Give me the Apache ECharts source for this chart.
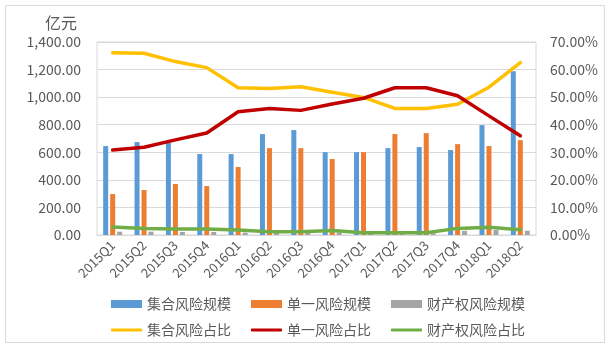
<!DOCTYPE html>
<html>
<head>
<meta charset="utf-8">
<script src="https://cdn.jsdelivr.net/npm/echarts@6/dist/echarts.min.js"></script>
<style>
  html, body { margin: 0; padding: 0; background: #fff; }
  #chart { width: 610px; height: 346px; }
</style>
</head>
<body>
<div id="chart"></div>
<script>
// Quarterly scale (亿元) and share (%) by risk type
const quarters = ['2015Q1','2015Q2','2015Q3','2015Q4','2016Q1','2016Q2','2016Q3','2016Q4','2017Q1','2017Q2','2017Q3','2017Q4','2018Q1','2018Q2'];
const collectiveScale = [645, 674, 670, 587, 587, 732, 761, 601, 601, 630, 638, 616, 797, 1188];
const singleScale     = [297, 326, 370, 355, 493, 630, 630, 551, 601, 732, 739, 659, 645, 688];
const propertyScale   = [24, 24, 22, 22, 17, 15, 15, 18, 12, 12, 12, 30, 36, 31];
const collectiveShare = [66.1, 65.9, 62.9, 60.7, 53.4, 53.1, 53.8, 51.8, 49.9, 45.9, 45.9, 47.4, 53.6, 62.5];
const singleShare     = [30.8, 31.8, 34.5, 37.0, 44.7, 45.9, 45.2, 47.5, 49.6, 53.4, 53.4, 50.5, 43.2, 36.0];
const propertyShare   = [2.9, 2.4, 2.2, 2.2, 1.8, 1.2, 1.2, 1.6, 0.8, 0.8, 0.8, 2.4, 2.8, 1.9];
const leftTicks = { min: 0, max: 1400, step: 200 };
const rightTicks = { min: 0, max: 70, step: 10 };

const TXT = '#595959';
const GRID = '#d9d9d9';
const FONT = '"Noto Sans CJK SC", "DejaVu Sans", sans-serif';

const chart = echarts.init(document.getElementById('chart'), null, { renderer: 'canvas' });

function barSeries(name, data, color) {
  return {
    name, type: 'bar', yAxisIndex: 0, data,
    barWidth: 5, barGap: '40%', barCategoryGap: '40%',
    itemStyle: { color }
  };
}
function lineSeries(name, data, color) {
  return {
    name, type: 'line', yAxisIndex: 1, data,
    symbol: 'none', z: 3,
    lineStyle: { color, width: 3.5, cap: 'round', join: 'round' },
    itemStyle: { color }
  };
}

const legendText = { color: TXT, fontSize: 14, fontFamily: FONT };

chart.setOption({
  animation: false,
  textStyle: { fontFamily: FONT },
  title: {
    text: '亿元', left: 40, top: 10,
    textStyle: { color: TXT, fontSize: 16, fontWeight: 'normal', fontFamily: FONT }
  },
  graphic: [{
    type: 'rect', silent: true,
    shape: { x: 5.5, y: 5.5, width: 599, height: 337 },
    style: { fill: 'none', stroke: GRID, lineWidth: 1 }
  }],
  legend: [
    {
      data: ['集合风险规模', '单一风险规模', '财产权风险规模'],
      left: 106, top: 292, itemWidth: 31, itemHeight: 8, itemGap: 20,
      icon: 'rect', textStyle: legendText
    },
    {
      data: ['集合风险占比', '单一风险占比', '财产权风险占比'],
      left: 106, top: 318, itemWidth: 31, itemHeight: 3, itemGap: 20,
      icon: 'roundRect', textStyle: legendText
    }
  ],
  grid: { left: 97, right: 74, top: 42, bottom: 111, show: true, borderColor: GRID, borderWidth: 1 },
  xAxis: {
    type: 'category', data: quarters,
    axisLine: { lineStyle: { color: GRID } },
    axisTick: { show: false },
    axisLabel: { color: TXT, fontSize: 13, rotate: 45, margin: 8, interval: 0, fontFamily: FONT }
  },
  yAxis: [
    {
      type: 'value', min: leftTicks.min, max: leftTicks.max, interval: leftTicks.step,
      axisLine: { show: false }, axisTick: { show: false },
      splitLine: { lineStyle: { color: GRID } },
      axisLabel: {
        color: TXT, fontSize: 14, margin: 16, fontFamily: FONT,
        formatter: v => v.toLocaleString('en-US', { minimumFractionDigits: 2, maximumFractionDigits: 2 })
      }
    },
    {
      type: 'value', min: rightTicks.min, max: rightTicks.max, interval: rightTicks.step,
      axisLine: { show: false }, axisTick: { show: false },
      splitLine: { show: false },
      axisLabel: {
        color: TXT, fontSize: 14, margin: 14, fontFamily: FONT,
        formatter: v => v.toFixed(2) + '%'
      }
    }
  ],
  series: [
    barSeries('集合风险规模', collectiveScale, '#5b9bd5'),
    barSeries('单一风险规模', singleScale, '#ed7d31'),
    barSeries('财产权风险规模', propertyScale, '#a5a5a5'),
    lineSeries('集合风险占比', collectiveShare, '#ffc000'),
    lineSeries('单一风险占比', singleShare, '#c00000'),
    lineSeries('财产权风险占比', propertyShare, '#70ad47')
  ]
});
</script>
</body>
</html>
